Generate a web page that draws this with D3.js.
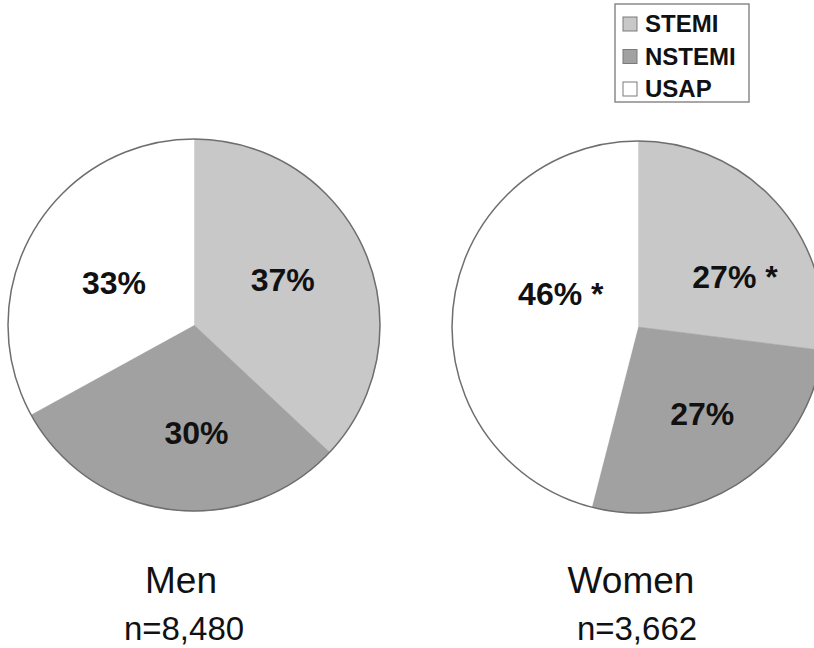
<!DOCTYPE html>
<html>
<head>
<meta charset="utf-8">
<script src="https://cdn.jsdelivr.net/npm/d3@7/dist/d3.min.js"></script>
<style>
  html, body { margin: 0; padding: 0; background: #fff; }
  svg { display: block; }
  text { font-family: "Liberation Sans", Arial, Helvetica, sans-serif; fill: #111; }
</style>
</head>
<body>
<svg id="chart" width="814" height="648"></svg>
<script>
// Presentation type distribution by sex
const categories = ["STEMI", "NSTEMI", "USAP"];
const groups = ["Men", "Women"];
const sampleSizes = ["n=8,480", "n=3,662"];
const menValues = [37, 30, 33];
const womenValues = [27, 27, 46];
const menMarks = ["", "", ""];
const womenMarks = [" *", "", " *"];

const fills = d3.scaleOrdinal().domain(categories).range(["#c8c8c8", "#a1a1a1", "#ffffff"]);

const svg = d3.select("#chart");

const panels = [
  { name: groups[0], n: sampleSizes[0], values: menValues, marks: menMarks,
    cx: 194, cy: 325, titleX: 181, nX: 184 },
  { name: groups[1], n: sampleSizes[1], values: womenValues, marks: womenMarks,
    cx: 638, cy: 327, titleX: 631, nX: 637 }
];

const R = 186;
const pie = d3.pie().sort(null).value(d => d.value);
const arc = d3.arc().innerRadius(0).outerRadius(R);
const labelArc = d3.arc().innerRadius(100).outerRadius(100);

// small per-label nudges so the text sits clear of the slice edges
const nudge = {
  Men:   { STEMI: [-3, -6], NSTEMI: [15, 8], USAP: [6, 8] },
  Women: { STEMI: [22, 16], NSTEMI: [8, 4], USAP: [22, -21] }
};

panels.forEach(p => {
  const rows = categories.map((c, i) => ({ cat: c, value: p.values[i], mark: p.marks[i] }));
  const arcs = pie(rows);
  const g = svg.append("g").attr("transform", `translate(${p.cx},${p.cy})`);

  g.selectAll("path.slice")
    .data(arcs)
    .join("path")
    .attr("class", "slice")
    .attr("d", arc)
    .attr("fill", d => fills(d.data.cat))
    .attr("stroke", d => fills(d.data.cat))
    .attr("stroke-width", 0.5);

  g.append("circle")
    .attr("r", R)
    .attr("fill", "none")
    .attr("stroke", "#6e6e6e")
    .attr("stroke-width", 1.5);

  g.selectAll("text.pct")
    .data(arcs)
    .join("text")
    .attr("class", "pct")
    .attr("transform", d => {
      const [x, y] = labelArc.centroid(d);
      const [nx, ny] = nudge[p.name][d.data.cat];
      return `translate(${x + nx},${y + ny})`;
    })
    .attr("text-anchor", "middle")
    .attr("dy", "0.36em")
    .attr("font-size", 32)
    .attr("font-weight", "bold")
    .text(d => d.data.value + "%" + d.data.mark);

  svg.append("text")
    .attr("x", p.titleX).attr("y", 593)
    .attr("text-anchor", "middle")
    .attr("font-size", 37)
    .text(p.name);

  svg.append("text")
    .attr("x", p.nX).attr("y", 640)
    .attr("text-anchor", "middle")
    .attr("font-size", 33)
    .text(p.n);
});

// legend
const lg = svg.append("g").attr("transform", "translate(615,4)");
lg.append("rect")
  .attr("width", 134).attr("height", 98)
  .attr("fill", "#fff")
  .attr("stroke", "#8a8a8a")
  .attr("stroke-width", 1.5);

const item = lg.selectAll("g.item")
  .data(categories)
  .join("g")
  .attr("class", "item")
  .attr("transform", (d, i) => `translate(0,${28 + i * 32.5})`);

item.append("rect")
  .attr("x", 8).attr("y", -15)
  .attr("width", 14).attr("height", 14)
  .attr("fill", d => fills(d))
  .attr("stroke", "#7a7a7a")
  .attr("stroke-width", 1);

item.append("text")
  .attr("x", 30).attr("y", 0)
  .attr("font-size", 24)
  .attr("font-weight", "bold")
  .text(d => d);
</script>
</body>
</html>
